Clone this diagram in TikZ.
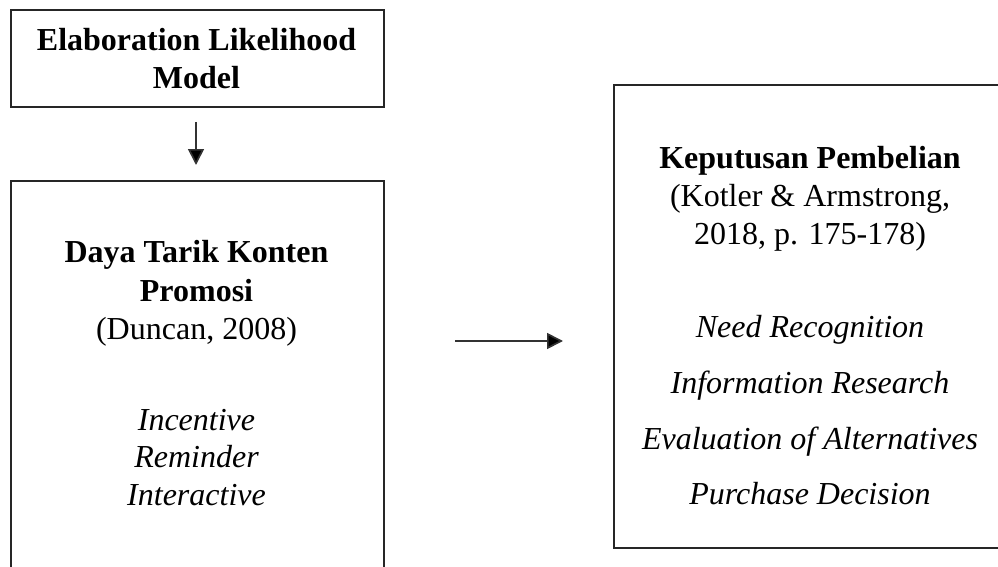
\documentclass[tikz,border=0pt]{standalone}
\usepackage{fontspec}
\setmainfont{Liberation Serif}
\usetikzlibrary{arrows.meta}
\begin{document}
\begin{tikzpicture}[x=1pt,y=-1pt,
  box/.style={draw=black!85,line width=1.6pt,rectangle,inner sep=0pt,anchor=north west},
  txt/.style={anchor=base,inner sep=0pt,font=\fontsize{32}{38}\selectfont},
  btxt/.style={txt,font=\fontsize{32}{38}\selectfont\bfseries},
  itxt/.style={txt,font=\fontsize{32}{38}\selectfont\itshape},
  arr/.style={line width=1.7pt,draw=black!80,-{Triangle[length=16pt,width=16pt,fill=black]}}]
\clip (0,0) rectangle (998,567);
% boxes
\node[box,minimum width=373pt,minimum height=97pt] (elm) at (10,9) {};
\node[box,minimum width=373pt,minimum height=420pt] (daya) at (10,180) {};
\node[box,minimum width=394pt,minimum height=463pt] (kep) at (613,84) {};
% texts left top
\node[btxt] (t1) at (196.5,51) {Elaboration Likelihood};
\node[btxt] (t2) at (196.5,89) {Model};
% left box
\node[btxt] (t3) at (196.5,262) {Daya Tarik Konten};
\node[btxt] (t4) at (196.5,301) {Promosi};
\node[txt] (t5) at (196.5,339) {(Duncan, 2008)};
\node[itxt] (t6) at (196.5,430) {Incentive};
\node[itxt] (t7) at (196.5,467) {Reminder};
\node[itxt] (t8) at (196.5,505) {Interactive};
% right box
\node[btxt] (r1) at (810,168) {Keputusan Pembelian};
\node[txt] (r2) at (810,206) {(Kotler \& Armstrong,};
\node[txt] (r3) at (810,244) {2018, p. 175-178)};
\node[itxt] (r4) at (810,337) {Need Recognition};
\node[itxt] (r5) at (810,393) {Information Research};
\node[itxt] (r6) at (810,449) {Evaluation of Alternatives};
\node[itxt] (r7) at (810,504) {Purchase Decision};
% arrows
\coordinate (a1) at (196,122);
\coordinate (a2) at (196,165);
\draw[arr] (a1) -- (a2);
\coordinate (h1) at (455,341);
\coordinate (h2) at (563,341);
\draw[arr] (h1) -- (h2);
\end{tikzpicture}
\end{document}
